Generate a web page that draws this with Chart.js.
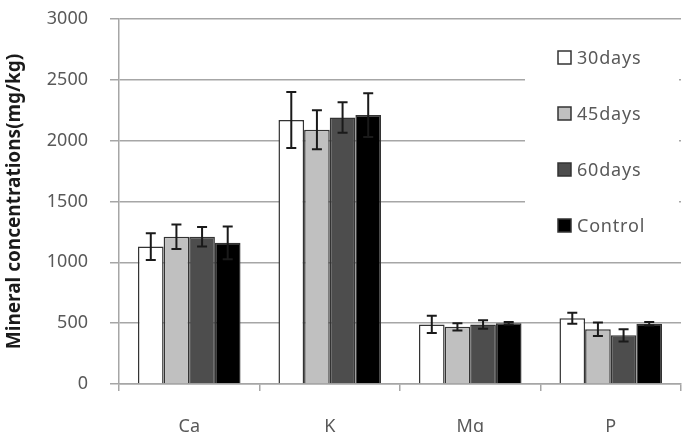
<!DOCTYPE html>
<html lang="en">
<head>
    <meta charset="UTF-8">
    <title>Mineral concentrations</title>
    <script src="https://cdn.jsdelivr.net/npm/chart.js"></script>
    <style>
        body { margin: 0; background: #fff; }
    </style>
</head>
<body>
    <canvas id="mineralChart" width="694" height="432"></canvas>
    <script>
        // data
        const categories = ['Ca', 'K', 'Mg', 'P'];
        const seriesNames = ['30days', '45days', '60days', 'Control'];
        const days30 = [1130, 2170, 490, 540];
        const days45 = [1210, 2090, 470, 450];
        const days60 = [1210, 2190, 490, 400];
        const control = [1160, 2210, 500, 495];
        const err30 = [110, 230, 70, 45];
        const err45 = [100, 160, 30, 55];
        const err60 = [80, 125, 35, 50];
        const errControl = [135, 180, 10, 15];
        const yTicks = [0, 500, 1000, 1500, 2000, 2500, 3000];

        const fillColors = ['#ffffff', '#c0c0c0', '#4d4d4d', '#000000'];
        const gridColor = '#a6a6a6';
        const textColor = '#595959';
        const fontFamily = '"Noto Sans", "Open Sans", sans-serif';

        const values = [days30, days45, days60, control];
        const errors = [err30, err45, err60, errControl];

        const datasets = seriesNames.map((name, i) => ({
            label: name,
            data: values[i],
            errors: errors[i],
            backgroundColor: fillColors[i],
            borderColor: '#333333',
            borderWidth: 1.5,
            borderSkipped: 'bottom',
            categoryPercentage: 0.73,
            barPercentage: 1.0
        }));

        // error bars with caps
        const errorBars = {
            id: 'errorBars',
            afterDatasetsDraw(chart) {
                const ctx = chart.ctx;
                const y = chart.scales.y;
                ctx.save();
                ctx.strokeStyle = '#1a1a1a';
                ctx.lineWidth = 2;
                chart.data.datasets.forEach((ds, i) => {
                    const meta = chart.getDatasetMeta(i);
                    meta.data.forEach((bar, j) => {
                        const v = ds.data[j];
                        const e = ds.errors[j];
                        const top = y.getPixelForValue(v + e);
                        const bot = y.getPixelForValue(v - e);
                        const cap = 5;
                        ctx.beginPath();
                        ctx.moveTo(bar.x, top);
                        ctx.lineTo(bar.x, bot);
                        ctx.moveTo(bar.x - cap, top);
                        ctx.lineTo(bar.x + cap, top);
                        ctx.moveTo(bar.x - cap, bot);
                        ctx.lineTo(bar.x + cap, bot);
                        ctx.stroke();
                    });
                });
                ctx.restore();
            }
        };

        // legend box drawn over the grid, inside the plot
        const boxLegend = {
            id: 'boxLegend',
            afterDraw(chart) {
                const ctx = chart.ctx;
                const area = chart.chartArea;
                const left = 525, top = 30, right = area.right - 2, bottom = 245;
                ctx.save();
                ctx.fillStyle = '#ffffff';
                ctx.fillRect(left, top, right - left, bottom - top);
                ctx.font = '18px ' + fontFamily;
                ctx.letterSpacing = '0.8px';
                ctx.textBaseline = 'middle';
                chart.data.datasets.forEach((ds, i) => {
                    const cy = 58 + i * 56;
                    ctx.fillStyle = ds.backgroundColor;
                    ctx.fillRect(558, cy - 7, 13, 13);
                    ctx.strokeStyle = '#333333';
                    ctx.lineWidth = 1.5;
                    ctx.strokeRect(558, cy - 7, 13, 13);
                    ctx.fillStyle = textColor;
                    ctx.fillText(ds.label, 577, cy + 1);
                });
                ctx.restore();
            }
        };

        new Chart(document.getElementById('mineralChart'), {
            type: 'bar',
            data: { labels: categories, datasets: datasets },
            options: {
                responsive: false,
                animation: false,
                layout: { padding: { left: 0, top: 19, right: 13, bottom: 0 } },
                plugins: {
                    legend: { display: false },
                    tooltip: { enabled: false }
                },
                scales: {
                    x: {
                        afterFit(scale) { scale.height = 48; },
                        grid: {
                            offset: true,
                            drawOnChartArea: false,
                            drawTicks: true,
                            tickLength: 7,
                            color: gridColor,
                            lineWidth: 1.5
                        },
                        border: { color: gridColor, width: 1.5 },
                        ticks: {
                            color: textColor,
                            padding: 25,
                            font: { family: fontFamily, size: 18 }
                        }
                    },
                    y: {
                        min: 0,
                        max: 3000,
                        afterFit(scale) {
                            scale.width = 119;
                            scale.paddingTop = 0;
                            scale.paddingBottom = 0;
                        },
                        afterBuildTicks(scale) {
                            scale.ticks = yTicks.map(v => ({ value: v }));
                        },
                        grid: {
                            color: gridColor,
                            lineWidth: 1.5,
                            drawTicks: true,
                            tickLength: 9
                        },
                        border: { color: gridColor, width: 1.5 },
                        ticks: {
                            color: textColor,
                            padding: 22,
                            font: { family: fontFamily, size: 18 },
                            callback: v => String(v)
                        },
                        title: {
                            display: true,
                            text: 'Mineral concentrations(mg/kg)',
                            color: '#1a1a1a',
                            padding: { top: 3, bottom: 0 },
                            font: { family: fontFamily, size: 19, weight: 'bold' }
                        }
                    }
                }
            },
            plugins: [errorBars, boxLegend]
        });
    </script>
</body>
</html>
